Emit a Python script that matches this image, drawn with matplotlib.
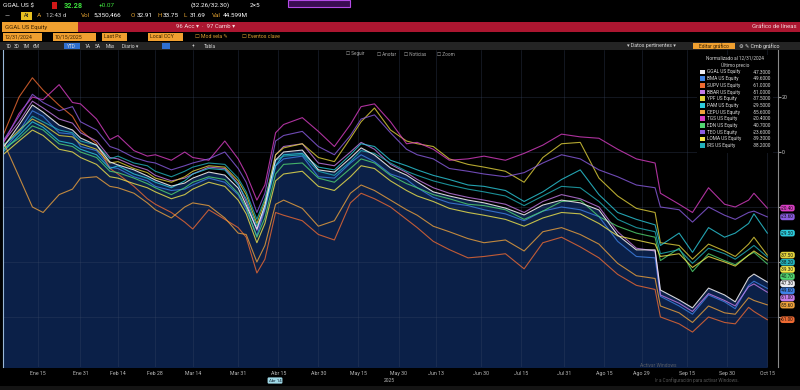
import matplotlib
matplotlib.use("Agg")
import matplotlib.pyplot as plt
from matplotlib.patches import Rectangle
import pandas as pd

plt.rcParams['font.family'] = ['Roboto', 'DejaVu Sans']

# Rendimiento normalizado (%) al 12/31/2024, lectura aproximada del grafico
fechas = pd.to_datetime([
    "2025-01-02", "2025-01-08", "2025-01-13", "2025-01-17", "2025-01-23", "2025-01-28", "2025-01-31",
    "2025-02-06", "2025-02-11", "2025-02-14", "2025-02-20", "2025-02-25", "2025-02-28",
    "2025-03-06", "2025-03-11", "2025-03-14", "2025-03-20", "2025-03-26", "2025-03-31",
    "2025-04-03", "2025-04-07", "2025-04-10", "2025-04-14", "2025-04-17", "2025-04-24", "2025-04-30",
    "2025-05-06", "2025-05-12", "2025-05-16", "2025-05-21", "2025-05-27",
    "2025-06-02", "2025-06-06", "2025-06-12", "2025-06-18", "2025-06-25",
    "2025-07-01", "2025-07-09", "2025-07-16", "2025-07-23", "2025-07-30",
    "2025-08-06", "2025-08-13", "2025-08-20", "2025-08-27",
    "2025-09-03", "2025-09-05", "2025-09-12", "2025-09-17", "2025-09-23", "2025-09-29",
    "2025-10-03", "2025-10-08", "2025-10-10", "2025-10-15"])

ggal = [1.5, 9.8, 17.1, 14.5, 9.8, 8.0, 5.1,
        2.5, -3.6, -4.7, -6.5, -8.7, -10.2,
        -12.4, -11.3, -9.5, -7.3, -8.4, -13.1,
        -19.3, -28.0, -19.3, -2.9, 0.0, 0.7, -6.5,
        -7.3, -2.2, 1.5, -1.1, -5.8,
        -8.4, -10.9, -14.5, -16.0, -17.5,
        -18.5, -20.4, -22.9, -19.3, -17.5,
        -18.5, -21.1, -30.2, -35.6,
        -35.6, -50.2, -53.8, -56.7, -49.5, -52.0,
        -54.5, -45.8, -44.4, -47.3]
bma = [0.5, 7.5, 15.0, 13.0, 7.0, 6.5, 2.0,
       0.5, -5.5, -6.0, -9.0, -10.5, -12.5,
       -14.0, -13.5, -12.0, -9.5, -11.0, -15.5,
       -21.0, -30.5, -21.0, -5.0, -2.5, -1.5, -9.0,
       -9.5, -4.0, -1.0, -3.5, -8.0,
       -10.0, -13.0, -16.5, -18.5, -19.5,
       -21.0, -22.5, -25.0, -21.5, -20.0,
       -21.0, -23.5, -32.5, -38.0,
       -38.5, -52.5, -56.0, -59.0, -52.0, -54.5,
       -57.0, -48.5, -47.0, -49.6]
supv = [6.0, 20.0, 27.0, 22.5, 17.0, 13.0, 8.0,
        3.0, -6.0, -8.0, -12.5, -17.0, -19.0,
        -22.0, -25.5, -28.0, -21.0, -24.5, -27.5,
        -31.0, -44.0, -39.0, -22.0, -23.0, -25.0, -30.0,
        -32.0, -18.5, -15.0, -17.0, -20.0,
        -24.5, -27.5, -32.5, -35.5, -38.5,
        -38.0, -37.0, -42.5, -33.0, -31.0,
        -34.5, -38.5, -44.5, -48.5,
        -50.0, -60.0, -62.5, -65.5, -60.0, -62.0,
        -62.5, -56.5, -58.0, -61.0]
bbar = [3.5, 11.0, 18.5, 16.0, 12.0, 10.5, 7.0,
        4.0, -2.0, -2.5, -5.0, -6.5, -8.5,
        -10.5, -9.5, -8.0, -5.5, -6.0, -11.5,
        -18.0, -28.5, -20.5, -1.0, 2.0, 3.0, -4.0,
        -5.0, 0.0, 3.5, 1.0, -4.5,
        -7.5, -10.0, -13.0, -15.0, -16.5,
        -17.5, -19.0, -22.0, -18.0, -15.5,
        -17.0, -20.0, -29.0, -35.0,
        -36.0, -52.0, -55.0, -58.0, -51.5, -54.0,
        -56.0, -49.0, -48.0, -51.0]
ypf = [2.0, 8.0, 12.0, 10.0, 6.0, 5.5, 3.0,
       1.0, -4.0, -3.5, -6.0, -7.5, -9.5,
       -11.0, -9.0, -7.0, -5.0, -5.5, -10.5,
       -15.5, -26.0, -18.0, -1.0, 1.5, 3.0, -2.0,
       -3.5, 5.0, 11.0, 16.0, 8.0,
       4.0, 3.0, 2.0, -2.5, -4.5,
       -5.5, -7.0, -11.0, -2.0, 3.0,
       3.5, -9.5, -16.0, -20.5,
       -22.0, -33.0, -34.0, -39.0, -33.5, -36.0,
       -38.0, -33.5, -31.0, -37.5]
pam = [0.0, 6.0, 11.0, 9.0, 4.0, 3.0, 1.0,
       -1.0, -6.0, -5.0, -8.0, -9.5, -11.0,
       -13.0, -10.5, -8.0, -6.0, -6.5, -12.0,
       -17.0, -27.0, -20.0, -5.0, -1.0, -0.5, -5.5,
       -6.5, -1.0, 3.0, 2.0, -3.0,
       -5.0, -6.5, -8.5, -10.0, -12.0,
       -12.5, -14.0, -18.0, -14.5, -10.0,
       -6.5, -15.5, -22.0, -24.5,
       -26.5, -34.0, -29.5, -36.5, -27.5, -31.0,
       -29.5, -26.0, -22.5, -29.5]
cepu = [4.0, -9.0, -20.0, -22.0, -15.5, -13.5, -9.5,
        -9.0, -12.5, -13.0, -15.0, -18.5, -21.0,
        -24.0, -20.0, -18.5, -19.5, -24.0, -29.5,
        -30.0, -40.0, -34.0, -19.0, -17.5, -20.5, -27.0,
        -25.0, -15.0, -12.0, -14.0, -17.5,
        -21.0, -23.0, -27.0, -29.0, -31.5,
        -33.0, -32.0, -36.0, -29.0, -27.5,
        -30.0, -33.5, -40.5, -45.0,
        -46.0, -56.0, -58.5, -62.0, -56.0, -58.5,
        -59.0, -53.0, -54.0, -55.6]
tgs = [3.0, 14.0, 20.0, 19.0, 24.5, 18.0, 17.5,
       12.0, 4.5, 6.0, 0.5, -1.5, -1.0,
       -3.0, 0.0, -2.0, -3.0, 4.0, -2.5,
       -8.0, -17.5, -12.0, 7.0, 10.0, 12.5, 7.5,
       2.0, 10.0, 16.5, 17.5, 11.0,
       3.0, 3.5, 1.0, -3.0, -2.5,
       -1.5, -3.0, -0.5, 2.5, 6.5,
       5.5, 5.0, 1.0, -2.5,
       -4.0, -15.0, -19.0, -22.0, -13.0, -19.0,
       -20.0, -17.5, -15.0, -20.4]
edn = [1.0, 5.0, 9.5, 8.0, 3.0, 2.0, 0.0,
       -2.0, -7.0, -7.5, -9.5, -11.5, -13.0,
       -15.5, -13.0, -11.0, -9.0, -10.0, -15.0,
       -20.0, -31.0, -24.0, -8.0, -4.5, -4.0, -9.5,
       -11.0, -6.0, -2.5, -4.0, -8.5,
       -11.5, -13.0, -15.5, -17.0, -19.0,
       -19.5, -21.0, -24.5, -21.5, -18.0,
       -17.5, -23.5, -27.0, -29.5,
       -31.0, -39.5, -35.0, -43.5, -37.0, -39.5,
       -41.0, -37.5, -36.5, -40.7]
teo = [4.0, 13.0, 21.0, 18.0, 15.0, 16.5, 11.0,
       8.0, 2.0, 1.0, -2.0, -3.5, -4.0,
       -6.5, -5.0, -4.0, -2.5, 0.0, -6.0,
       -11.0, -22.0, -15.0, 4.0, 6.0, 7.5, 2.0,
       -1.0, 6.0, 12.0, 13.5, 7.0,
       1.0, -1.0, -2.5, -6.0, -7.0,
       -8.0, -9.0, -7.5, -4.0, -1.0,
       -2.5, -6.5, -9.0, -12.0,
       -13.0, -20.0, -21.0, -25.5, -20.0, -23.0,
       -24.5, -22.0, -21.5, -23.6]
loma = [-1.0, 4.0, 8.0, 6.0, 1.0, 0.0, -2.0,
        -4.5, -9.0, -9.5, -11.5, -13.0, -14.5,
        -17.0, -15.5, -13.5, -11.0, -12.5, -17.5,
        -22.5, -33.0, -26.0, -10.5, -8.0, -7.0, -12.5,
        -14.0, -9.0, -5.0, -6.0, -10.5,
        -14.0, -16.0, -18.0, -20.5, -22.0,
        -23.0, -24.5, -27.0, -24.0, -22.0,
        -22.5, -26.0, -30.5, -32.0,
        -33.5, -38.0, -37.0, -42.0, -38.0, -40.0,
        -41.5, -37.5, -36.0, -39.3]
irs = [2.5, 7.0, 13.0, 11.0, 8.0, 7.0, 4.0,
       2.5, -2.5, -1.5, -4.0, -5.0, -7.0,
       -9.0, -7.0, -5.5, -4.0, -4.5, -9.5,
       -14.5, -24.5, -17.0, -3.0, -1.5, -1.0, -7.0,
       -8.5, -3.5, 0.5, -0.5, -4.0,
       -7.0, -8.5, -10.5, -12.0, -13.5,
       -14.5, -16.0, -19.5, -16.0, -12.5,
       -13.0, -18.0, -24.5, -27.5,
       -29.0, -37.0, -35.5, -40.5, -35.0, -37.0,
       -39.0, -35.5, -34.0, -38.2]

tickers = ["GGAL US Equity", "BMA US Equity", "SUPV US Equity", "BBAR US Equity",
           "YPF US Equity", "PAM US Equity", "CEPU US Equity", "TGS US Equity",
           "EDN US Equity", "TEO US Equity", "LOMA US Equity", "IRS US Equity"]
series = [ggal, bma, supv, bbar, ypf, pam, cepu, tgs, edn, teo, loma, irs]
colores = ["#ececf2", "#3f82e6", "#ee6a32", "#c47ce8", "#e2d23c", "#2ccbdc",
           "#eea23c", "#d83ec4", "#52d672", "#8a5ce0", "#f2e64c", "#22b2bc"]

tick_fechas = pd.to_datetime(["2025-01-15", "2025-01-31", "2025-02-14", "2025-02-28", "2025-03-14",
                              "2025-03-31", "2025-04-15", "2025-04-30", "2025-05-15", "2025-05-30",
                              "2025-06-13", "2025-06-30", "2025-07-15", "2025-07-31", "2025-08-15",
                              "2025-08-29", "2025-09-15", "2025-09-30", "2025-10-15"])
tick_labels = ["Ene 15", "Ene 31", "Feb 14", "Feb 28", "Mar 14", "Mar 31", "Abr 15", "Abr 30",
               "May 15", "May 30", "Jun 13", "Jun 30", "Jul 15", "Jul 31", "Ago 15", "Ago 29",
               "Sep 15", "Sep 30", "Oct 15"]
y_ticks = [-60, -40, -20, 0, 20]
y_labels = ["", "", "", "0", "20"]   # el resto queda tapado por las etiquetas

W, H = 800, 390
fig = plt.figure(figsize=(8, 3.9), dpi=100, facecolor="black")


def fx(x):
    return x / W


def fy(y):
    return 1 - y / H


def caja(x0, y0, x1, y1, fc, ec="none", lw=0, z=1):
    fig.patches.append(Rectangle((fx(x0), fy(y1)), (x1 - x0) / W, (y1 - y0) / H,
                                 transform=fig.transFigure, fc=fc, ec=ec, lw=lw, zorder=z))


def texto(x, y, s, color="white", size=4.5, ha="left", z=6, **kw):
    fig.text(fx(x), fy(y), s, color=color, fontsize=size, ha=ha, va="center", zorder=z, **kw)


# --- grafico principal ---
ax = fig.add_axes([fx(3), fy(367), 775 / W, 317 / H])
ax.set_facecolor("black")
ax.fill_between(fechas, ggal, -90, color="#0b2048", lw=0, zorder=1)
for vals, col in zip(series[1:], colores[1:]):
    ax.plot(fechas, vals, color=col, lw=0.8, alpha=0.8, zorder=3)
ax.plot(fechas, ggal, color=colores[0], lw=0.8, alpha=0.9, zorder=4)

ax.set_xlim(pd.Timestamp("2025-01-02"), pd.Timestamp("2025-10-19"))
ax.set_ylim(-78.2, 37.1)
ax.set_xticks(tick_fechas)
ax.set_xticklabels(tick_labels, color="#b8b8b8", fontsize=3.8)
ax.tick_params(axis="x", length=0, pad=3)
ax.yaxis.tick_right()
ax.set_yticks(y_ticks)
ax.set_yticklabels(y_labels, color="#c8c8c8", fontsize=3.8)
ax.tick_params(axis="y", length=2, color="#999999", pad=1)
ax.grid(color="#3c4a66", lw=0.4, alpha=0.55)
for s in ["top", "bottom", "left"]:
    ax.spines[s].set_visible(False)
ax.spines["right"].set_color("#8a8a8a")
ax.spines["right"].set_linewidth(0.8)
ax.plot([0, 0], [0, 1], transform=ax.transAxes, color="#9ab8d8", lw=0.8, zorder=5, clip_on=False)

# etiquetas del ultimo valor a la derecha, separadas para que no se pisen
finales = sorted(((vals[-1], i) for i, vals in enumerate(series)), reverse=True)
previo = None
for v, i in finales:
    pos = v if previo is None else min(v, previo - 2.6)
    previo = pos
    ax.annotate(f"{v:.2f}", xy=(1.004, pos), xycoords=ax.get_yaxis_transform(),
                ha="left", va="center", fontsize=3.3, color="#101010",
                annotation_clip=False, zorder=7,
                bbox=dict(boxstyle="round,pad=0.18,rounding_size=0.5", fc=colores[i], ec="none"))

# --- leyenda ---
caja(697, 55, 773, 153, "black", z=5)
texto(735, 58.5, "Normalizado al 12/31/2024", color="#d0d0d0", size=3.4, ha="center")
texto(735, 65, "Último precio", color="#d0d0d0", size=3.4, ha="center")
for k, (t, vals, col) in enumerate(zip(tickers, series, colores)):
    yy = 72 + k * 6.67
    caja(700, yy - 2.2, 704.5, yy + 2.2, col, z=6)
    texto(707, yy, t, color="#d8d8d8", size=3.4)
    texto(771, yy, f"{vals[-1]:.4f}", color="#d8d8d8", size=3.4, ha="right")

# --- cabecera tipo terminal ---
texto(3, 5.5, "GGAL US $", size=4.6)
caja(52, 2.5, 57, 8.5, "#d01818")
texto(64, 5.5, "32.28", color="#3de03d", size=5.2, weight="bold")
texto(99, 5.5, "+0.07", color="#3de03d", size=4.6)
texto(191, 5.5, "(32.26/32.30)", size=4.6)
texto(250, 5.5, "2×5", size=4.6)
caja(288, 0, 350, 7, "#3a0c52", ec="#b44ae6", lw=0.8)

texto(5, 15.5, "—", size=4.6)
caja(21, 12, 32, 19.5, "#e8c020")
texto(26.5, 15.7, "At", color="#202020", size=4.0, ha="center")
texto(37, 15.5, "A", color="#e0a030", size=4.6)
texto(46, 15.5, "12:43 d", color="#c8c8c8", size=4.4)
texto(81, 15.5, "Vol", color="#e0a030", size=4.6)
texto(93, 15.5, "5,350,466", size=4.6)
texto(131, 15.5, "O", color="#e0a030", size=4.6)
texto(137, 15.5, "32.91", size=4.6)
texto(157, 15.5, "H", color="#e0a030", size=4.6)
texto(163, 15.5, "33.75", size=4.6)
texto(184, 15.5, "L", color="#e0a030", size=4.6)
texto(190, 15.5, "31.69", size=4.6)
texto(212, 15.5, "Val", color="#e0a030", size=4.6)
texto(223, 15.5, "44.599M", size=4.6)

caja(2, 22.5, 78, 31.5, "#f0a030")
texto(5, 27, "GGAL US Equity", color="#3a2200", size=4.3)
caja(78, 22.5, 800, 31.5, "#ac1630")
caja(78, 22.5, 800, 23.3, "#d8384e")
texto(206, 27, "96 Acc ▾  ·  97 Camb ▾", color="#f2d8dc", size=4.3, ha="center")
texto(797, 27, "Gráfico de líneas", color="#f2d8dc", size=4.3, ha="right")

for x0, x1, s in [(3, 42, "12/31/2024"), (53, 96, "10/15/2025"), (102, 127, "Last Px"), (148, 183, "Local CCY")]:
    caja(x0, 33.5, x1, 40.5, "#f0a030")
    texto(x0 + 2, 37, s, color="#3a2200", size=3.8)
texto(195, 37, "☐ Mod vela ✎", color="#e0a030", size=3.8)
texto(242, 37, "☐ Eventos clave", color="#e0a030", size=3.8)

caja(0, 42.5, 800, 49.5, "#242424")
caja(64, 43, 80, 49, "#2f6fd0")
for x, s in [(6, "1D"), (14, "3D"), (23, "1M"), (33, "6M"), (67, "YTD"), (85, "1A"), (95, "5A"),
             (106, "Máx"), (122, "Diario ▾"), (192, "+"), (204, "Tabla")]:
    texto(x, 46, s, color="#d8d8d8", size=3.5)
caja(162, 43, 170, 49, "#2f6fd0")
texto(627, 46, "▾ Datos pertinentes ▾", color="#d8d8d8", size=3.8)
caja(693, 43, 735, 49, "#f0a030")
texto(714, 46, "Editar gráfico", color="#3a2200", size=3.6, ha="center")
texto(739, 46, "⚙ ✎ Cmb gráfico", color="#e8e8e8", size=3.8)

for x, s in [(346, "☐ Seguir"), (377, "☐ Anotar"), (404, "☐ Noticias"), (437, "☐ Zoom")]:
    texto(x, 54, s, color="#a8a8a8", size=3.3)

# --- pie ---
fig.text(fx(275), fy(380.5), "Abr 14", color="#102030", fontsize=3.2, ha="center", va="center",
         bbox=dict(boxstyle="round,pad=0.25", fc="#9fd8e6", ec="none"))
texto(389, 380.5, "2025", color="#b8b8b8", size=3.6, ha="center")
texto(640, 365.5, "Activar Windows", color="#6a6a6a", size=3.5, alpha=0.8)
texto(655, 380.5, "Ir a Configuración para activar Windows.", color="#6a6a6a", size=3.3, alpha=0.8)
caja(0, 386, 800, 390, "#141414")

fig.savefig("out.png", dpi=100, facecolor="black")
